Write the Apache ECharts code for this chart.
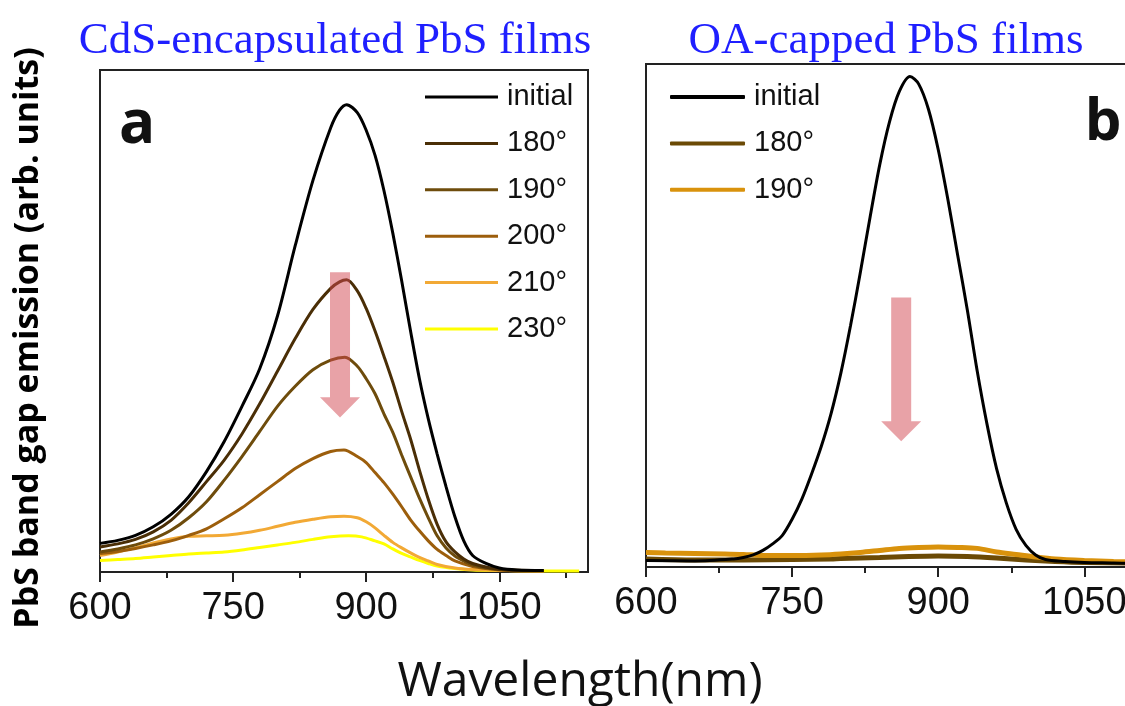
<!DOCTYPE html>
<html>
<head>
<meta charset="utf-8">
<script src="https://cdn.jsdelivr.net/npm/echarts@6/dist/echarts.min.js"></script>
<style>
  html, body { margin: 0; padding: 0; background: #fff; }
  #chart { width: 1125px; height: 706px; }
</style>
</head>
<body>
<div id="chart"></div>
<script>
// panel a: CdS-encapsulated PbS films, [wavelength (nm), emission (arb.)]
const initialA = [[600,5.7],[620,6.3],[640,7.3],[660,9],[680,11.5],[700,15],[720,20],[740,26],[760,33],[780,40.5],[800,51],[820,65],[840,78],[860,88.5],[870,92],[878,93.1],[890,91.5],[900,88],[910,83],[920,76],[930,67.5],[940,58],[950,48],[960,38.5],[970,30.5],[980,23.5],[990,17],[1000,11],[1010,6.2],[1020,3.3],[1035,1.7],[1050,0.8],[1070,0.4],[1100,0.3]];
const deg180A = [[600,5],[620,5.6],[640,6.5],[660,8],[680,10.3],[700,13.8],[720,18],[740,22.3],[760,27.5],[780,33.5],[800,40],[820,46.5],[840,52.3],[860,56.5],[870,57.8],[878,58.2],[890,56],[900,52.5],[910,48],[920,43],[930,37.8],[940,32],[950,26.5],[960,20.3],[970,14.5],[980,9.5],[990,6],[1000,4],[1010,2.6],[1020,1.7],[1040,0.8],[1060,0.4],[1100,0.3]];
const deg190A = [[600,4],[620,4.6],[640,5.4],[660,6.6],[680,8.3],[700,10.8],[720,14],[740,18.3],[760,23],[780,28],[800,33],[820,37],[840,40.3],[860,42.2],[876,42.8],[890,41],[900,38.5],[910,35.5],[920,31.5],[930,27.8],[940,23.3],[950,19],[960,14.7],[970,10.8],[980,7.2],[990,4.8],[1000,3.2],[1010,2.2],[1020,1.4],[1040,0.7],[1060,0.4],[1100,0.3]];
const deg200A = [[600,3.7],[620,4.1],[640,4.7],[660,5.4],[680,6.2],[700,7.3],[720,8.6],[740,10.6],[760,12.8],[780,15.4],[800,18],[820,20.6],[840,22.6],[860,24],[875,24.3],[890,23],[900,21.8],[910,19.8],[920,17.8],[930,15.5],[940,13],[950,10.4],[960,8.2],[970,6.2],[980,4.5],[990,3.3],[1000,2.2],[1020,1.1],[1040,0.6],[1060,0.3],[1100,0.2]];
const deg210A = [[600,3.3],[620,4],[640,4.8],[660,5.8],[680,6.6],[700,7.1],[720,7.2],[740,7.3],[760,7.7],[780,8.3],[800,9.1],[820,9.9],[840,10.5],[860,11],[875,11.1],[890,10.8],[900,10],[910,8.8],[920,7.3],[930,5.9],[940,4.8],[950,3.8],[960,2.9],[970,2.2],[980,1.5],[1000,0.8],[1020,0.5],[1050,0.3],[1100,0.2]];
const deg230A = [[600,2.3],[620,2.5],[640,2.7],[660,3],[680,3.3],[700,3.6],[720,3.8],[740,4],[760,4.4],[780,4.9],[800,5.4],[820,5.9],[840,6.5],[860,7],[880,7.2],[895,7],[910,6.2],[920,5.6],[930,4.6],[940,3.7],[950,3],[960,2.3],[970,1.7],[980,1.2],[1000,0.7],[1020,0.4],[1050,0.3],[1100,0.2],[1140,0.2]];

// panel b: OA-capped PbS films
const initialB = [[600,1.3],[650,1.2],[690,1.6],[700,1.9],[710,2.4],[720,3.3],[730,4.6],[740,6.3],[750,9.5],[760,13.5],[770,18.5],[780,24],[790,30.5],[800,38.5],[810,48],[820,58.5],[830,69.5],[840,80],[850,88.5],[860,94.5],[871,97.5],[880,96],[890,91],[900,83],[910,73],[920,62],[930,51],[940,39],[950,28.5],[960,19.5],[970,12.7],[980,7.5],[990,4.3],[1000,2.4],[1010,1.5],[1030,1.1],[1050,0.9],[1080,0.8],[1100,0.7]];
const deg180B = [[600,1.6],[650,1.4],[700,1.4],[750,1.5],[790,1.6],[800,1.7],[840,1.9],[870,2.1],[900,2.2],[930,2.1],[960,1.8],[990,1.4],[1020,1.1],[1050,0.9],[1100,0.8]];
const deg190B = [[600,2.9],[620,2.8],[650,2.7],[680,2.6],[700,2.5],[720,2.3],[750,2.3],[780,2.4],[800,2.6],[820,2.9],[840,3.3],[860,3.7],[880,3.9],[900,4],[920,3.9],[940,3.7],[960,3],[980,2.5],[1000,2],[1020,1.6],[1050,1.3],[1080,1.1],[1100,1]];

const xTicks = [600, 750, 900, 1050];
const xMinorA = [675, 825, 975, 1125];
const xMinorB = [675, 825, 975];

// arrows: [x, shaft top, head start, tip]
const arrowA = [[870.5, 59.7, 34.8, 30.8]];
const arrowB = [[862, 53.6, 29, 25]];

const chart = echarts.init(document.getElementById('chart'));

function renderArrow(params, api) {
  const top = api.coord([api.value(0), api.value(1)]);
  const neck = api.coord([api.value(0), api.value(2)]);
  const tip = api.coord([api.value(0), api.value(3)]);
  const s = 10, h = 20;
  return {
    type: 'polygon',
    shape: { points: [
      [top[0] - s, top[1]], [top[0] + s, top[1]], [top[0] + s, neck[1]],
      [top[0] + h, neck[1]], [tip[0], tip[1]], [top[0] - h, neck[1]], [top[0] - s, neck[1]]
    ] },
    style: { fill: 'rgba(209,69,79,0.5)' }
  };
}

function line(name, data, color, width, grid) {
  return {
    name: name, type: 'line', data: data, xAxisIndex: grid * 2, yAxisIndex: grid,
    symbol: 'none', smooth: 0.3, color: color,
    lineStyle: { color: color, width: width }
  };
}

const tickFont = { fontSize: 38, fontFamily: 'Liberation Sans', color: '#111', margin: 18 };

function majorAxis(grid, max) {
  return {
    type: 'value', gridIndex: grid, min: 600, max: max, position: 'bottom',
    axisLine: { show: false }, splitLine: { show: false },
    axisTick: { show: true, length: 10, customValues: xTicks, lineStyle: { color: '#222', width: 2 } },
    axisLabel: Object.assign({ customValues: xTicks, formatter: v => String(v) }, tickFont)
  };
}
function minorAxis(grid, max, vals) {
  return {
    type: 'value', gridIndex: grid, min: 600, max: max, position: 'bottom', offset: 0,
    axisLine: { show: false }, splitLine: { show: false }, axisLabel: { show: false },
    axisTick: { show: true, length: 6, customValues: vals, lineStyle: { color: '#222', width: 2 } }
  };
}
function yAxis(grid) {
  return {
    type: 'value', gridIndex: grid, min: 0, max: 100,
    axisLine: { show: false }, axisTick: { show: false }, axisLabel: { show: false }, splitLine: { show: false }
  };
}

const legendText = { fontSize: 29, fontFamily: 'Liberation Sans', color: '#111', lineHeight: 30, padding: [0, 0, 0, 4] };

const option = {
  backgroundColor: '#fff',
  animation: false,
  grid: [
    { left: 100, top: 70, width: 488, height: 502, show: true, borderColor: '#222', borderWidth: 2, outerBoundsMode: 'none' },
    { left: 646, top: 64, width: 487, height: 503, show: true, borderColor: '#222', borderWidth: 2, outerBoundsMode: 'none' }
  ],
  xAxis: [majorAxis(0, 1150), minorAxis(0, 1150, xMinorA), majorAxis(1, 1100), minorAxis(1, 1100, xMinorB)],
  yAxis: [yAxis(0), yAxis(1)],
  legend: [
    { orient: 'vertical', left: 425, top: 82, padding: 0, icon: 'rect', itemWidth: 73, itemHeight: 3, itemGap: 16.4,
      selectedMode: false, textStyle: legendText,
      data: ['initial', '180°', '190°', '200°', '210°', '230°'] },
    { orient: 'vertical', left: 670, top: 82, padding: 0, icon: 'roundRect', itemWidth: 75, itemHeight: 4, itemGap: 16.4,
      selectedMode: false, textStyle: legendText,
      data: ['b:initial', 'b:180°', 'b:190°'],
      formatter: function (n) { return n.replace('b:', ''); } }
  ],
  graphic: [
    { type: 'text', x: 335, y: 41, style: { text: 'CdS-encapsulated PbS films', font: '45px "Liberation Serif"', fill: '#1f1fff', align: 'center', verticalAlign: 'middle' } },
    { type: 'text', x: 886, y: 41, style: { text: 'OA-capped PbS films', font: '45px "Liberation Serif"', fill: '#1f1fff', align: 'center', verticalAlign: 'middle' } },
    { type: 'text', x: 137, y: 126, style: { text: 'a', font: 'bold 60px "Open Sans"', fill: '#111', align: 'center', verticalAlign: 'middle' } },
    { type: 'text', x: 1103, y: 123, style: { text: 'b', font: 'bold 58px "Open Sans"', fill: '#111', align: 'center', verticalAlign: 'middle' } },
    { type: 'text', x: 28, y: 338, rotation: Math.PI / 2, style: { text: 'PbS band gap emission (arb. units)', font: 'bold 34px "Open Sans"', fill: '#000', align: 'center', verticalAlign: 'middle' } },
    { type: 'text', x: 580, y: 682, style: { text: 'Wavelength(nm)', font: '48px "Open Sans"', fill: '#111', align: 'center', verticalAlign: 'middle' } }
  ],
  series: [
    line('230°', deg230A, '#ffff00', 3, 0),
    line('210°', deg210A, '#f2a935', 3, 0),
    line('200°', deg200A, '#9c5e0c', 3, 0),
    line('190°', deg190A, '#6e4c0c', 3, 0),
    line('180°', deg180A, '#4a2e06', 3, 0),
    line('initial', initialA, '#000000', 3, 0),
    line('b:180°', deg180B, '#6b4a05', 5, 1),
    line('b:190°', deg190B, '#d9920c', 5, 1),
    line('b:initial', initialB, '#000000', 3, 1),
    { type: 'custom', xAxisIndex: 0, yAxisIndex: 0, data: arrowA, renderItem: renderArrow, encode: { x: 0, y: [1, 2, 3] }, z: 5, silent: true },
    { type: 'custom', xAxisIndex: 2, yAxisIndex: 1, data: arrowB, renderItem: renderArrow, encode: { x: 0, y: [1, 2, 3] }, z: 5, silent: true }
  ]
};

chart.setOption(option);
</script>
</body>
</html>
